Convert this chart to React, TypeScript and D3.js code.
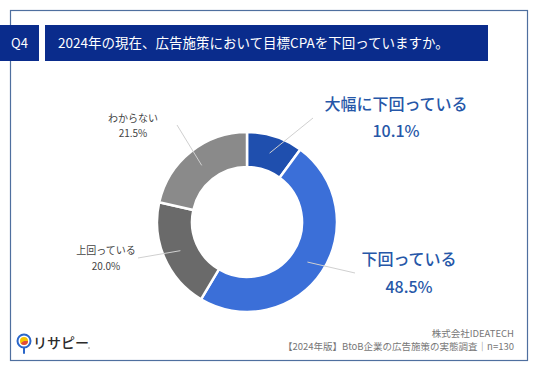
import React, { useEffect, useRef } from 'react';
import * as d3 from 'd3';

const categories = ['大幅に下回っている', '下回っている', '上回っている', 'わからない'];
const values = [10.1, 48.5, 20.0, 21.5];
const sliceColors = ['#1f4fae', '#3b6fd8', '#6a6a6a', '#8a8a8a'];

const title = '2024年の現在、広告施策において目標CPAを下回っていますか。';
const footer1 = '株式会社IDEATECH';
const footer2 = '【2024年版】BtoB企業の広告施策の実態調査｜n=130';

// label placement per slice (text anchor and leader end)
const labelPos = [
  { x: 396, y: 110, ex: 313, ey: 118, size: 16, gap: 27, color: '#2657a8' },
  { x: 409, y: 265, ex: 355, ey: 273, size: 16, gap: 28, color: '#2657a8' },
  { x: 106, y: 254, ex: 138, ey: 258, size: 10, gap: 16, color: '#444' },
  { x: 133, y: 122, ex: 177, ey: 125, size: 10, gap: 15, color: '#444' },
];

const FONT = '"Noto Sans CJK JP", "Noto Sans", sans-serif';

const App: React.FC = () => {
  const svgRef = useRef<SVGSVGElement | null>(null);

  useEffect(() => {
    const width = 536;
    const height = 371;
    const svg = d3.select(svgRef.current)
      .attr('width', width)
      .attr('height', height)
      .style('background-color', 'white')
      .style('font-family', FONT);
    svg.selectAll('*').remove();

    // frame
    svg.append('rect')
      .attr('x', 10.5).attr('y', 10.5)
      .attr('width', 517).attr('height', 350)
      .attr('fill', 'none')
      .attr('stroke', '#4f6f9f')
      .attr('stroke-width', 1.2);

    // header
    svg.append('rect')
      .attr('x', 0).attr('y', 25).attr('width', 39).attr('height', 36)
      .attr('fill', '#0a2c8c');
    svg.append('text')
      .attr('x', 19.5).attr('y', 48)
      .attr('text-anchor', 'middle')
      .attr('fill', 'white')
      .attr('font-size', 13)
      .text('Q4');
    svg.append('rect')
      .attr('x', 45).attr('y', 25).attr('width', 443).attr('height', 36)
      .attr('fill', '#0a2c8c');
    svg.append('text')
      .attr('x', 58).attr('y', 48)
      .attr('fill', 'white')
      .attr('font-size', 13.5)
      .text(title);

    // donut
    const cx = 247;
    const cy = 222;
    const outerR = 90;
    const innerR = 55;
    const pie = d3.pie<number>().sort(null).value(d => d);
    const arcs = pie(values);
    const arc = d3.arc<d3.PieArcDatum<number>>().innerRadius(innerR).outerRadius(outerR);
    const mid = d3.arc<d3.PieArcDatum<number>>()
      .innerRadius((innerR + outerR) / 2)
      .outerRadius((innerR + outerR) / 2);

    const g = svg.append('g').attr('transform', `translate(${cx},${cy})`);
    g.selectAll('path.slice')
      .data(arcs)
      .enter()
      .append('path')
      .attr('class', 'slice')
      .attr('d', arc)
      .attr('fill', (d, i) => sliceColors[i])
      .attr('stroke', 'white')
      .attr('stroke-width', 2.5);

    // leader lines
    arcs.forEach((a, i) => {
      const [mx, my] = mid.centroid(a);
      const p = labelPos[i];
      svg.append('line')
        .attr('x1', cx + mx).attr('y1', cy + my)
        .attr('x2', p.ex).attr('y2', p.ey)
        .attr('stroke', '#d0d0d0')
        .attr('stroke-width', 1);
    });

    // labels
    categories.forEach((c, i) => {
      const p = labelPos[i];
      svg.append('text')
        .attr('x', p.x).attr('y', p.y)
        .attr('text-anchor', 'middle')
        .attr('fill', p.color)
        .attr('font-size', p.size)
        .attr('font-weight', p.size > 12 ? 500 : 400)
        .text(c);
      svg.append('text')
        .attr('x', p.x).attr('y', p.y + p.gap)
        .attr('text-anchor', 'middle')
        .attr('fill', p.color)
        .attr('font-size', p.size)
        .attr('font-weight', p.size > 12 ? 500 : 400)
        .text(values[i].toFixed(1) + '%');
    });

    // footer
    svg.append('text')
      .attr('x', 514).attr('y', 337)
      .attr('text-anchor', 'end')
      .attr('fill', '#777')
      .attr('font-size', 9.5)
      .text(footer1);
    svg.append('text')
      .attr('x', 514).attr('y', 350)
      .attr('text-anchor', 'end')
      .attr('fill', '#777')
      .attr('font-size', 9.5)
      .text(footer2);

    // logo
    const logo = svg.append('g').attr('transform', 'translate(24,341)');
    logo.append('line')
      .attr('x1', 0).attr('y1', 6).attr('x2', 0).attr('y2', 12)
      .attr('stroke', '#2a66c9').attr('stroke-width', 2).attr('stroke-linecap', 'round');
    logo.append('circle')
      .attr('r', 6.5).attr('fill', 'white')
      .attr('stroke', '#2a66c9').attr('stroke-width', 2);
    logo.append('circle').attr('r', 4).attr('fill', '#f5c400');
    logo.append('path')
      .attr('d', d3.arc()({ innerRadius: 0, outerRadius: 4, startAngle: Math.PI * 0.5, endAngle: Math.PI * 1.3 }) as string)
      .attr('fill', '#e24b3b');
    svg.append('text')
      .attr('x', 33).attr('y', 348)
      .attr('fill', '#2b2b2b')
      .attr('font-size', 14)
      .attr('font-weight', 500)
      .text('リサピー');
    svg.append('circle')
      .attr('cx', 89).attr('cy', 348).attr('r', 0.8).attr('fill', '#888');
  }, []);

  return (
    <div>
      <svg ref={svgRef} style={{ position: 'absolute', left: 0, top: 0 }}></svg>
    </div>
  );
};

export default App;
